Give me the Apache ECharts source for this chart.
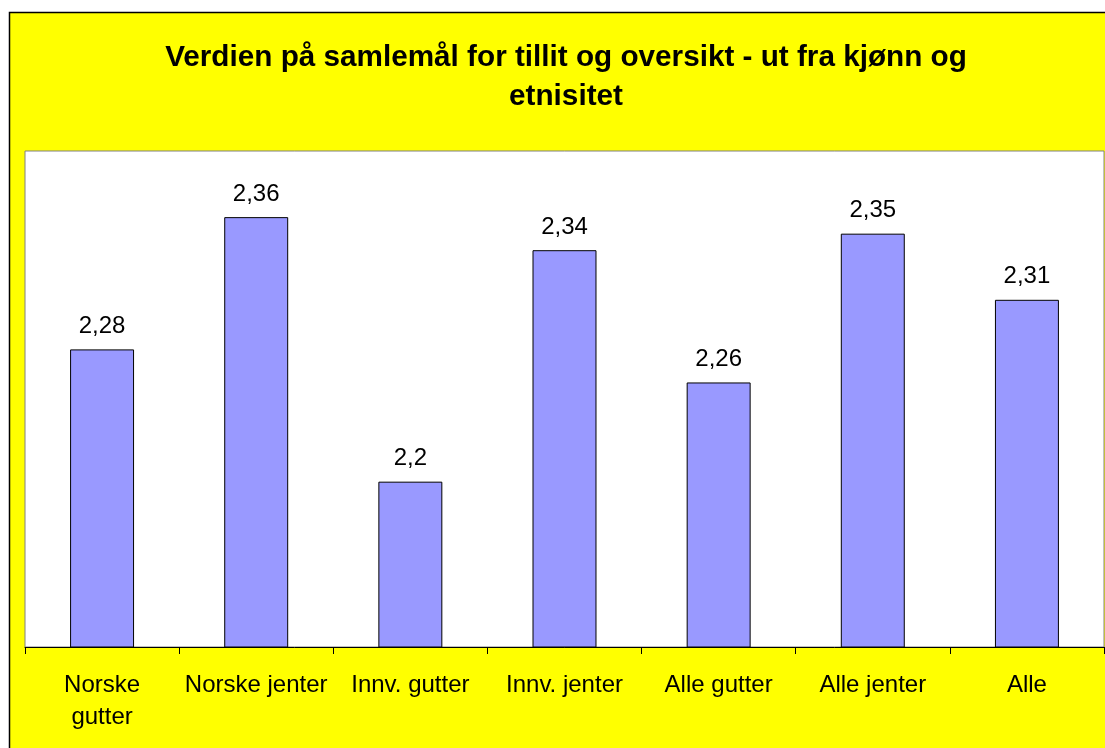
<!DOCTYPE html>
<html>
<head>
<meta charset="utf-8">
<script src="https://cdn.jsdelivr.net/npm/echarts@6/dist/echarts.min.js"></script>
<style>
  html, body { margin: 0; padding: 0; background: #fff; }
  #chart { width: 1105px; height: 748px; }
</style>
</head>
<body>
<div id="chart"></div>
<script>
const categories = ['Norske\ngutter', 'Norske jenter', 'Innv. gutter', 'Innv. jenter', 'Alle gutter', 'Alle jenter', 'Alle']
const values = [2.28, 2.36, 2.2, 2.34, 2.26, 2.35, 2.31]
const titleText = 'Verdien på samlemål for tillit og oversikt - ut fra kjønn og\netnisitet'

const chart = echarts.init(document.getElementById('chart'), null, { renderer: 'canvas' })

const option = {
  backgroundColor: '#fff',
  animation: false,
  graphic: [{
    type: 'rect',
    z: -10,
    silent: true,
    shape: { x: 9.5, y: 12.5, width: 1200, height: 800 },
    style: { fill: '#ffff00', stroke: '#000', lineWidth: 1.5 },
  }],
  title: {
    text: titleText,
    left: 561,
    textAlign: 'center',
    top: 33,
    textStyle: {
      fontFamily: 'Liberation Sans, Arial, sans-serif',
      fontWeight: 'bold',
      fontSize: 29.7,
      lineHeight: 39,
      color: '#000',
    },
  },
  grid: {
    show: true,
    left: 25, right: 1, top: 151, bottom: 101,
    backgroundColor: '#fff',
    borderColor: '#808080',
    borderWidth: 1,
  },
  xAxis: {
    type: 'category',
    data: categories,
    axisLine: { lineStyle: { color: '#000', width: 1 } },
    axisTick: { show: true, length: 7, lineStyle: { color: '#000' } },
    axisLabel: {
      color: '#000',
      fontFamily: 'Liberation Sans, Arial, sans-serif',
      fontSize: 24,
      lineHeight: 32,
      margin: 22,
      interval: 0,
    },
  },
  yAxis: {
    type: 'value',
    min: 2.1, max: 2.4,
    show: false,
    splitLine: { show: false },
  },
  series: [{
    type: 'bar',
    data: values,
    barWidth: '41.5%',
    itemStyle: { color: '#9999ff', borderColor: '#000', borderWidth: 1 },
    label: {
      show: true,
      position: 'top',
      distance: 11,
      color: '#000',
      fontFamily: 'Liberation Sans, Arial, sans-serif',
      fontSize: 24,
      formatter: p => String(p.value).replace('.', ','),
    },
  }],
}

chart.setOption(option)
</script>
</body>
</html>
